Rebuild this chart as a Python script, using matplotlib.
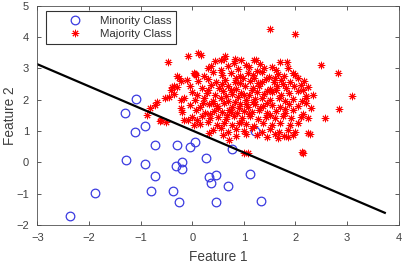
import numpy as np
import matplotlib.pyplot as plt

plt.rcParams['font.family'] = ['Liberation Sans', 'DejaVu Sans']

# minority class (blue circles)
min_x = [-1.08, -1.31, -0.92, -1.10, -0.73, -0.29, -0.05, 0.06, -1.28, -0.92,
         -0.31, -0.19, -0.19, -0.72, 0.26, 0.32, 0.36, 0.46, 1.12, 0.77,
         1.22, 0.70, -0.79, -0.37, -0.25, 0.46, 1.34, -1.88, -2.37]
min_y = [2.02, 1.57, 1.16, 0.96, 0.56, 0.56, 0.50, 0.66, 0.08, -0.06,
         -0.13, 0.02, -0.21, -0.43, 0.15, -0.48, -0.67, -0.39, -0.36, 0.43,
         1.01, -0.76, -0.92, -0.93, -1.25, -1.25, -1.22, -0.97, -1.70]

# majority class (red asterisks)
maj_pts = [
    (0.45, 3.22), (0.62, 3.31), (0.80, 3.18), (0.95, 3.25), (1.05, 3.12), (1.20, 3.28), (1.32, 3.15), (1.55, 3.05), (1.70, 3.20),
    (0.30, 3.02), (0.55, 2.95), (0.70, 3.08), (0.88, 2.98), (1.10, 3.05), (1.25, 2.92), (1.40, 3.02), (1.62, 2.96), (1.85, 3.00),
    (0.05, 2.82), (0.22, 2.75), (0.40, 2.88), (0.58, 2.80), (0.75, 2.86), (0.92, 2.74), (1.08, 2.84), (1.18, 2.78), (1.35, 2.88),
    (1.48, 2.72), (1.66, 2.83), (1.78, 2.76), (1.95, 2.85), (2.05, 2.70),
    (-0.10, 2.62), (0.12, 2.58), (0.30, 2.66), (0.47, 2.55), (0.64, 2.64), (0.82, 2.57), (0.98, 2.68), (1.12, 2.60), (1.28, 2.52),
    (1.42, 2.65), (1.58, 2.56), (1.72, 2.62), (1.90, 2.55), (2.10, 2.48),
    (-0.30, 2.40), (-0.05, 2.44), (0.18, 2.38), (0.36, 2.46), (0.52, 2.36), (0.70, 2.42), (0.85, 2.34), (1.02, 2.45), (1.18, 2.38),
    (1.30, 2.44), (1.50, 2.35), (1.65, 2.42), (1.82, 2.38), (1.98, 2.44), (2.15, 2.32),
    (-0.35, 2.18), (0.00, 2.24), (0.10, 2.15), (0.28, 2.22), (0.45, 2.16), (0.60, 2.26), (0.78, 2.18), (0.95, 2.22), (1.10, 2.14),
    (1.25, 2.25), (1.40, 2.18), (1.55, 2.23), (1.72, 2.15), (1.88, 2.20), (2.05, 2.26), (2.20, 2.12),
    (-0.15, 2.05), (0.05, 1.98), (0.22, 2.06), (0.40, 1.96), (0.55, 2.04), (0.70, 1.97), (0.88, 2.08), (1.05, 2.00), (1.18, 1.94),
    (1.35, 2.06), (1.50, 1.98), (1.68, 2.04), (1.80, 1.95), (1.95, 2.02), (2.12, 1.96),
    (-0.05, 1.84), (0.15, 1.78), (0.32, 1.86), (0.48, 1.80), (0.62, 1.88), (0.78, 1.76), (0.92, 1.85), (1.08, 1.78), (1.22, 1.87),
    (1.38, 1.80), (1.55, 1.84), (1.70, 1.76), (1.88, 1.86), (2.05, 1.80), (2.20, 1.88),
    (-0.20, 1.62), (0.08, 1.66), (0.25, 1.58), (0.42, 1.65), (0.58, 1.60), (0.72, 1.68), (0.86, 1.57), (1.00, 1.64), (1.15, 1.60),
    (1.30, 1.66), (1.45, 1.56), (1.62, 1.63), (1.80, 1.58), (1.95, 1.66), (2.15, 1.55),
    (0.00, 1.44), (0.18, 1.48), (0.35, 1.40), (0.50, 1.46), (0.65, 1.38), (0.80, 1.47), (0.96, 1.42), (1.12, 1.48), (1.28, 1.38),
    (1.42, 1.45), (1.60, 1.40), (1.75, 1.47), (1.92, 1.42), (2.10, 1.46),
    (0.15, 1.22), (0.30, 1.28), (0.48, 1.20), (0.62, 1.26), (0.78, 1.18), (0.90, 1.27), (1.05, 1.22), (1.20, 1.16), (1.38, 1.25),
    (1.55, 1.20), (1.70, 1.27), (1.90, 1.18), (2.05, 1.24),
    (0.40, 1.04), (0.55, 1.08), (0.70, 0.98), (0.85, 1.06), (1.00, 1.00), (1.15, 1.08), (1.35, 0.98), (1.50, 1.05), (1.68, 0.97),
    (1.85, 1.04), (2.00, 0.98),
    (0.60, 0.88), (0.85, 0.84), (1.05, 0.90), (1.25, 0.86), (1.60, 0.90), (1.78, 0.85), (1.95, 0.88),
    (0.58, 2.50), (0.75, 2.30), (0.92, 2.52), (1.15, 2.30), (1.36, 2.55), (0.65, 2.12), (0.82, 1.92), (1.00, 2.15), (1.22, 2.02),
    (1.44, 2.28), (0.50, 1.72), (0.68, 1.52), (0.90, 1.72), (1.10, 1.54), (1.32, 1.72), (1.50, 1.52), (0.40, 1.90), (0.30, 2.30),
    (0.20, 1.90), (1.62, 2.30), (1.75, 2.50), (1.45, 1.90), (0.95, 1.30), (0.75, 1.62), (1.20, 2.70), (0.85, 2.70), (1.60, 2.70),
    (0.35, 1.55), (1.80, 1.70), (1.05, 1.86),
    (1.50, 4.25), (2.00, 4.08), (-0.46, 3.21), (-0.08, 3.40), (0.12, 3.50), (0.17, 3.43), (2.49, 3.09), (2.83, 2.84), (3.10, 2.13),
    (2.84, 1.69), (2.58, 1.42), (2.34, 2.15), (2.30, 1.73), (2.28, 0.89), (2.24, 0.92), (2.15, 0.29), (2.12, 0.33), (1.84, 3.19),
    (2.16, 2.58), (2.00, 2.79), (1.45, 0.82), (1.66, 0.77), (1.85, 0.82), (1.00, 0.29), (1.08, 0.29), (0.72, 0.71), (0.33, 0.93),
    (-0.87, 1.51), (-0.73, 1.83), (-0.68, 1.94), (-0.62, 1.33), (-0.51, 1.30), (-0.45, 2.10), (-0.40, 2.40), (-0.25, 2.68),
    (-0.22, 1.99), (-0.21, 1.73), (-0.16, 1.35), (0.03, 1.19), (0.07, 2.79), (0.56, 3.27), (0.82, 3.29), (1.24, 3.27), (0.64, 3.38),
    (0.36, 3.06), (2.25, 2.40), (2.20, 2.05), (2.25, 1.40),
    (-0.29, 2.74), (-0.22, 2.58), (-0.35, 2.42), (-0.42, 2.31), (-0.52, 2.06), (0.04, 2.85), (-0.81, 1.73), (-0.61, 1.35),
    (-0.09, 1.35), (0.10, 1.35),
]
maj_x = [p[0] for p in maj_pts]
maj_y = [p[1] for p in maj_pts]

# decision boundary end points
line_x = [-3.0, 3.73]
line_y = [3.13, -1.61]

fig = plt.figure(figsize=(4.07, 2.66), dpi=100)
ax = fig.add_axes([0.0917, 0.154, 0.888, 0.825])

ax.plot(min_x, min_y, 'o', mfc='none', mec='#3a3ae0', ms=6.2, mew=0.9,
        label='Minority Class')
ax.plot(maj_x, maj_y, ls='none', marker=(8, 2, 0), color='red', ms=5.3,
        mew=0.7, label='Majority Class')
ax.plot(line_x, line_y, color='black', lw=1.6)

ax.set_xlim(-3, 4)
ax.set_ylim(-2, 5)
ax.set_xticks(range(-3, 5))
ax.set_yticks(range(-2, 6))
gray = '#404040'
ax.tick_params(direction='in', length=3, width=0.6, top=True, right=True,
               labelsize=8, colors=gray)
ax.tick_params(axis='x', pad=6)
ax.tick_params(axis='y', pad=6)
for s in ax.spines.values():
    s.set_color('#505050')
    s.set_linewidth(0.6)
ax.set_xlabel('Feature 1', fontsize=9.8, color=gray, labelpad=5)
ax.set_ylabel('Feature 2', fontsize=9.8, color=gray)
ax.yaxis.set_label_coords(-0.056, 0.5)

leg = ax.legend(loc='upper left', fontsize=8.2, frameon=True, fancybox=False,
                edgecolor='black', bbox_to_anchor=(0.024, 0.975),
                borderaxespad=0.0, handletextpad=0.0, labelspacing=0.3,
                borderpad=0.43, handlelength=4.3)
leg.get_frame().set_linewidth(0.8)
for t in leg.get_texts():
    t.set_color('#303030')

fig.savefig('out.png', dpi=100)
